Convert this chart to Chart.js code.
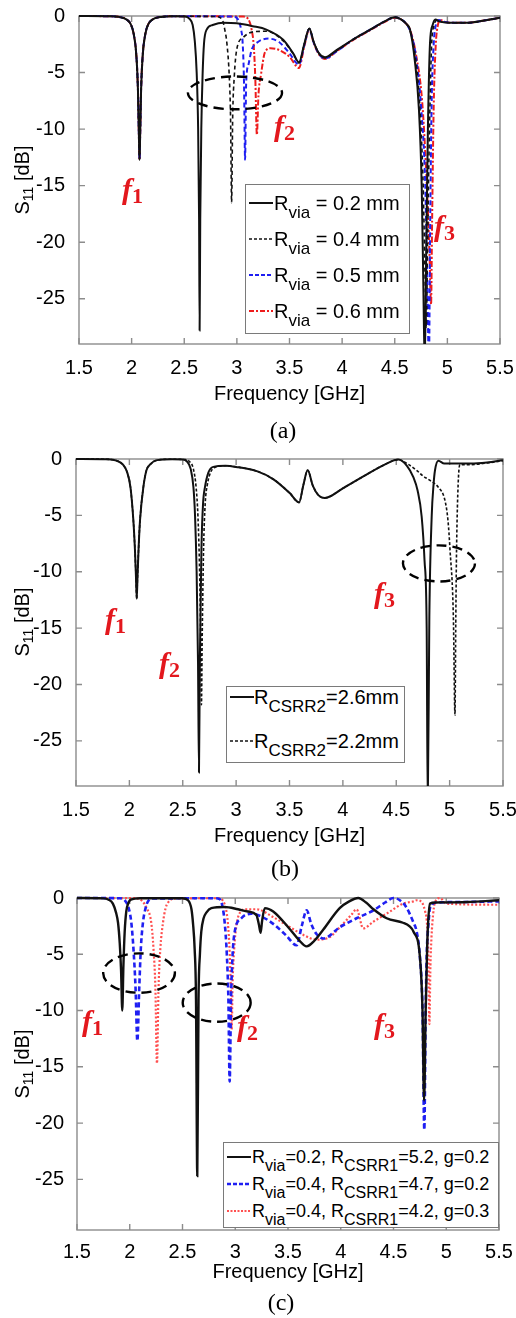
<!DOCTYPE html>
<html>
<head>
<meta charset="utf-8">
<script src="https://cdn.jsdelivr.net/npm/chart.js@4.4.1/dist/chart.umd.min.js"></script>
<style>
  body { margin: 0; background: #fff; width: 516px; height: 1318px; position: relative; overflow: hidden;
         font-family: "Liberation Sans", Arial, sans-serif; color: #000; }
  canvas { position: absolute; left: 0; }
  .fl { position: absolute; font: italic bold 30px "Liberation Serif", serif; color: #e3171d; line-height: 30px; white-space: nowrap; }
  .fl sub { font-size: 22px; font-style: normal; vertical-align: -4px; }
  .cap { position: absolute; width: 60px; text-align: center; font: 24px "Liberation Serif", serif; line-height: 26px; }
  .yt { position: absolute; width: 120px; height: 24px; line-height: 24px; text-align: center; font-size: 20px;
        transform: rotate(-90deg); white-space: nowrap; }
  .yt sub { font-size: 14px; vertical-align: -4px; }
  .leg { position: absolute; background: #fff; border: 1.3px solid #7a7a7a; box-sizing: border-box; }
  .row { position: absolute; left: 0; height: 22px; line-height: 22px; white-space: nowrap; }
  .row svg { position: absolute; left: 3px; top: 6px; }
  .row span { position: absolute; top: 0; }
  .row sub { vertical-align: -8px; line-height: 0; }
</style>
</head>
<body>
<canvas id="chartA" width="516" height="410" style="top:0px"></canvas>
<canvas id="chartB" width="516" height="410" style="top:440px"></canvas>
<canvas id="chartC" width="516" height="410" style="top:880px"></canvas>

<div class="yt" style="left:-38px;top:168px">S<sub>11</sub> [dB]</div>
<div class="yt" style="left:-38px;top:610px">S<sub>11</sub> [dB]</div>
<div class="yt" style="left:-38px;top:1052px">S<sub>11</sub> [dB]</div>

<div class="fl" style="left:122px;top:174px">f<sub>1</sub></div>
<div class="fl" style="left:274px;top:111px">f<sub>2</sub></div>
<div class="fl" style="left:434px;top:211px">f<sub>3</sub></div>

<div class="fl" style="left:105px;top:604px">f<sub>1</sub></div>
<div class="fl" style="left:159px;top:648px">f<sub>2</sub></div>
<div class="fl" style="left:374px;top:578px">f<sub>3</sub></div>

<div class="fl" style="left:82px;top:1006px">f<sub>1</sub></div>
<div class="fl" style="left:237px;top:1011px">f<sub>2</sub></div>
<div class="fl" style="left:374px;top:1009px">f<sub>3</sub></div>

<div class="cap" style="left:253px;top:417px">(a)</div>
<div class="cap" style="left:255px;top:855px">(b)</div>
<div class="cap" style="left:251px;top:1289px">(c)</div>

<div id="legA" class="leg" style="left:245px;top:184px;width:165px;height:150px;font-size:20px"></div>
<div id="legB" class="leg" style="left:226px;top:686px;width:179px;height:77px;font-size:20px"></div>
<div id="legC" class="leg" style="left:223px;top:1142px;width:276px;height:86px;font-size:18px"></div>

<script>
// ── ticks ──
const xTickValues = [1.5, 2, 2.5, 3, 3.5, 4, 4.5, 5, 5.5];
const yTickValues = [0, -5, -10, -15, -20, -25];

// ── (a) R_via sweep ──
const freqA02 = [1.5, 1.8, 1.9, 1.95, 1.99, 2.02, 2.045, 2.06, 2.069, 2.075,
  2.081, 2.09, 2.105, 2.13, 2.16, 2.2, 2.28, 2.4, 2.5, 2.55,
  2.58, 2.60, 2.618, 2.632, 2.641, 2.646, 2.652, 2.662, 2.675, 2.688,
  2.713, 2.77, 2.87, 3.0, 3.15, 3.28, 3.44, 3.535, 3.59, 3.64,
  3.688, 3.73, 3.78, 3.837, 3.95, 4.1, 4.25, 4.4, 4.5, 4.56,
  4.61, 4.645, 4.69, 4.73, 4.756, 4.772, 4.785, 4.80, 4.815, 4.835,
  4.86, 4.885, 4.93, 5.05, 5.2, 5.35, 5.5];
const s11A02 = [0, -0.03, -0.12, -0.3, -0.7, -1.6, -3.5, -6.5, -10.5, -12.7,
  -10.5, -6.5, -3.5, -1.6, -0.7, -0.3, -0.08, -0.02, -0.05, -0.25,
  -0.8, -2.2, -5, -10, -18, -27.8, -18, -10, -5, -2.4,
  -1.2, -0.8, -0.6, -0.65, -0.9, -1.2, -2.1, -3.3, -4.1, -2.5,
  -1.1, -2.3, -3.3, -3.65, -3.0, -2.1, -1.3, -0.5, -0.1, -0.3,
  -0.7, -1.2, -3.9, -8.3, -15, -24, -31, -20, -10, -2.4,
  -0.8, -0.3, -0.5, -0.6, -0.6, -0.4, -0.15];

const freqA04 = [1.5, 1.8, 1.9, 1.95, 1.99, 2.02, 2.045, 2.06, 2.069, 2.075,
  2.081, 2.09, 2.105, 2.13, 2.16, 2.2, 2.28, 2.4, 2.8, 2.86,
  2.885, 2.905, 2.928, 2.94, 2.95, 2.96, 2.975, 2.998, 3.06, 3.156,
  3.28, 3.44, 3.535, 3.59, 3.64, 3.688, 3.73, 3.78, 3.837, 3.95,
  4.1, 4.25, 4.4, 4.5, 4.56, 4.61, 4.645, 4.70, 4.74, 4.77,
  4.79, 4.80, 4.812, 4.83, 4.85, 4.875, 4.9, 4.94, 5.05, 5.2,
  5.35, 5.5];
const s11A04 = [0, -0.03, -0.12, -0.3, -0.7, -1.6, -3.5, -6.5, -10.5, -12.7,
  -10.5, -6.5, -3.5, -1.6, -0.7, -0.3, -0.08, -0.02, -0.05, -0.3,
  -1.2, -2.4, -5.4, -9, -16.5, -9, -5.4, -3, -1.9, -1.4,
  -1.35, -2.2, -3.35, -4.15, -2.5, -1.1, -2.3, -3.3, -3.7, -3.05,
  -2.1, -1.3, -0.5, -0.1, -0.3, -0.7, -1.3, -3.9, -8.3, -15,
  -24, -27.5, -20, -10, -2.6, -0.8, -0.35, -0.5, -0.6, -0.6,
  -0.4, -0.15];

const freqA05 = [1.5, 1.8, 1.9, 1.95, 1.99, 2.02, 2.045, 2.06, 2.069, 2.075,
  2.081, 2.09, 2.105, 2.13, 2.16, 2.2, 2.28, 2.4, 2.96, 3.01,
  3.04, 3.055, 3.068, 3.078, 3.088, 3.11, 3.14, 3.2, 3.3, 3.4,
  3.5, 3.59, 3.64, 3.688, 3.73, 3.78, 3.837, 3.95, 4.1, 4.25,
  4.4, 4.5, 4.56, 4.61, 4.645, 4.70, 4.75, 4.79, 4.81, 4.825,
  4.835, 4.85, 4.87, 4.89, 4.92, 4.96, 5.05, 5.2, 5.35, 5.5];
const s11A05 = [0, -0.03, -0.12, -0.3, -0.7, -1.6, -3.5, -6.5, -10.5, -12.7,
  -10.5, -6.5, -3.5, -1.6, -0.7, -0.3, -0.08, -0.02, -0.05, -0.3,
  -1.2, -2.4, -6, -12.7, -6, -4.3, -3, -2.3, -2.0, -2.3,
  -3.3, -4.3, -2.6, -1.15, -2.35, -3.35, -3.75, -3.1, -2.1, -1.3,
  -0.5, -0.12, -0.3, -0.7, -1.3, -3.5, -8, -15, -24, -31,
  -20, -8, -2.5, -0.8, -0.35, -0.5, -0.6, -0.6, -0.4, -0.15];

const freqA06 = [1.5, 1.8, 1.9, 1.95, 1.99, 2.02, 2.045, 2.06, 2.069, 2.075,
  2.081, 2.09, 2.105, 2.13, 2.16, 2.2, 2.28, 2.4, 3.06, 3.11,
  3.14, 3.16, 3.175, 3.19, 3.205, 3.229, 3.267, 3.32, 3.4, 3.5,
  3.59, 3.64, 3.688, 3.73, 3.78, 3.837, 3.95, 4.1, 4.25, 4.4,
  4.5, 4.56, 4.61, 4.645, 4.70, 4.76, 4.80, 4.83, 4.845, 4.855,
  4.87, 4.89, 4.91, 4.935, 4.97, 5.05, 5.2, 5.35, 5.5];
const s11A06 = [0, -0.03, -0.12, -0.3, -0.7, -1.6, -3.5, -6.5, -10.5, -12.7,
  -10.5, -6.5, -3.5, -1.6, -0.7, -0.3, -0.08, -0.02, -0.05, -0.3,
  -1.2, -2.6, -5.5, -10.5, -7, -5.2, -3.2, -2.85, -3.0, -3.6,
  -4.6, -2.7, -1.2, -2.4, -3.4, -3.8, -3.1, -2.15, -1.35, -0.55,
  -0.15, -0.3, -0.7, -1.2, -3.3, -7.5, -14, -21, -25.5, -18,
  -8, -2.5, -0.8, -0.35, -0.5, -0.6, -0.6, -0.4, -0.15];

// ── (b) R_CSRR2 sweep ──
const freqB26 = [1.5, 1.8, 1.88, 1.94, 1.98, 2.01, 2.037, 2.052, 2.062, 2.069,
  2.076, 2.086, 2.10, 2.131, 2.16, 2.193, 2.26, 2.4, 2.5, 2.537,
  2.575, 2.6, 2.615, 2.63, 2.643, 2.652, 2.66, 2.675, 2.69, 2.708,
  2.74, 2.786, 2.9, 3.0, 3.2, 3.35, 3.5, 3.59, 3.63, 3.67,
  3.72, 3.77, 3.83, 4.0, 4.2, 4.4, 4.52, 4.6, 4.66, 4.70,
  4.738, 4.765, 4.785, 4.795, 4.81, 4.832, 4.85, 4.863, 4.894, 4.95,
  5.2, 5.35, 5.5];
const s11B26 = [0, -0.03, -0.15, -0.5, -1.2, -2.5, -5.4, -8, -10.5, -12.4,
  -10.5, -8, -5.4, -2.5, -1.0, -0.5, -0.1, -0.02, -0.05, -0.2,
  -0.9, -2.5, -5, -10, -18, -27.8, -18, -8, -4, -2.5,
  -1.2, -0.7, -0.6, -0.7, -1.1, -1.8, -3.0, -3.85, -2.3, -1.0,
  -2.4, -3.2, -3.45, -2.6, -1.5, -0.45, -0.05, -0.6, -1.6, -2.8,
  -5.1, -9, -15, -31, -14, -5.1, -2.2, -1.0, -0.15, -0.4,
  -0.4, -0.3, -0.1];

const freqB22 = [1.5, 1.8, 1.88, 1.94, 1.98, 2.01, 2.037, 2.052, 2.062, 2.069,
  2.076, 2.086, 2.10, 2.131, 2.16, 2.193, 2.26, 2.4, 2.52, 2.56,
  2.6, 2.625, 2.642, 2.658, 2.668, 2.675, 2.682, 2.695, 2.71, 2.73,
  2.76, 2.8, 2.9, 3.0, 3.2, 3.35, 3.5, 3.59, 3.63, 3.67,
  3.72, 3.77, 3.83, 4.0, 4.2, 4.4, 4.52, 4.6, 4.69, 4.75,
  4.816, 4.894, 4.957, 4.985, 5.004, 5.035, 5.05, 5.058, 5.065, 5.08,
  5.097, 5.2, 5.35, 5.5];
const s11B22 = [0, -0.03, -0.15, -0.5, -1.2, -2.5, -5.4, -8, -10.5, -12.4,
  -10.5, -8, -5.4, -2.5, -1.0, -0.5, -0.1, -0.02, -0.05, -0.2,
  -0.9, -2.5, -5, -10, -16, -21.8, -16, -8, -4, -2.3,
  -1.2, -0.75, -0.6, -0.7, -1.1, -1.8, -3.0, -3.85, -2.3, -1.0,
  -2.4, -3.2, -3.45, -2.6, -1.5, -0.45, -0.05, -0.4, -1.0, -1.5,
  -1.9, -2.5, -3.7, -5.5, -8.1, -14, -22.7, -14, -8, -2.2,
  -0.5, -0.5, -0.35, -0.15];

// ── (c) CSRR1 / gap variants ──
const freqC1 = [1.5, 1.75, 1.8, 1.84, 1.87, 1.889, 1.905, 1.918, 1.929, 1.94,
  1.952, 1.967, 1.985, 2.01, 2.1, 2.5, 2.552, 2.585, 2.6, 2.615,
  2.628, 2.64, 2.652, 2.665, 2.678, 2.7, 2.726, 2.773, 2.9, 3.026,
  3.12, 3.2, 3.225, 3.24, 3.255, 3.28, 3.36, 3.52, 3.6, 3.677,
  3.75, 3.835, 3.99, 4.08, 4.166, 4.24, 4.31, 4.435, 4.59, 4.65,
  4.69, 4.75, 4.775, 4.79, 4.805, 4.82, 4.83, 4.846, 4.9, 5.2,
  5.5];
const s11C1 = [0, -0.03, -0.15, -0.5, -1.3, -2.2, -4, -6.5, -10, -6,
  -3, -1.2, -0.5, -0.15, -0.02, -0.02, -0.2, -1.0, -2.3, -4.5,
  -9, -24.7, -9, -5, -3, -1.8, -1.3, -0.9, -0.8, -1.0,
  -1.2, -1.5, -2.4, -3.1, -2.0, -0.9, -1.2, -2.8, -3.7, -4.3,
  -3.8, -2.8, -0.9, -0.3, 0, -0.4, -1.0, -1.8, -2.2, -2.5,
  -3.0, -5.2, -10, -18, -10, -4, -1.9, -0.5, -0.4, -0.35,
  -0.2];

const freqC2 = [1.5, 1.9, 1.952, 1.99, 2.015, 2.035, 2.055, 2.072, 2.09, 2.105,
  2.125, 2.15, 2.173, 2.22, 2.8, 2.852, 2.88, 2.90, 2.92, 2.935,
  2.947, 2.96, 2.975, 2.995, 3.058, 3.152, 3.26, 3.36, 3.48, 3.582,
  3.63, 3.677, 3.72, 3.77, 3.835, 3.99, 4.15, 4.31, 4.42, 4.5,
  4.56, 4.62, 4.69, 4.72, 4.75, 4.775, 4.792, 4.805, 4.815, 4.83,
  4.846, 4.91, 5.2, 5.5];
const s11C2 = [0, -0.02, -0.2, -0.9, -2.2, -4.5, -8, -12.7, -8, -4.5,
  -2.2, -0.9, -0.3, -0.05, -0.02, -0.1, -0.8, -2.2, -5, -9,
  -16.3, -9, -5, -3, -1.8, -1.4, -1.7, -2.3, -3.3, -4.2,
  -2.5, -1.1, -2.3, -3.2, -3.6, -2.6, -1.8, -1.1, -0.4, 0,
  -0.2, -0.8, -2.2, -3.0, -5.2, -10, -20.6, -10, -5, -2.5,
  -0.9, -0.4, -0.35, -0.3];

const freqC3 = [1.5, 2.05, 2.11, 2.16, 2.204, 2.225, 2.243, 2.258, 2.273, 2.29,
  2.315, 2.34, 2.363, 2.42, 2.85, 2.88, 2.91, 2.93, 2.948, 2.958,
  2.966, 2.975, 2.99, 3.01, 3.045, 3.1, 3.2, 3.36, 3.52, 3.65,
  3.77, 3.89, 4.0, 4.1, 4.15, 4.213, 4.31, 4.45, 4.59, 4.69,
  4.72, 4.77, 4.8, 4.815, 4.83, 4.84, 4.85, 4.86, 4.875, 4.89,
  4.94, 5.0, 5.5];
const s11C3 = [0, -0.02, -0.2, -0.9, -2.2, -4.5, -8, -14.7, -8, -4.5,
  -2.2, -0.9, -0.4, -0.05, -0.02, -0.2, -0.9, -2.2, -5, -8,
  -11.7, -7.5, -4.5, -2.5, -1.3, -1.0, -1.0, -1.7, -2.6, -3.3,
  -3.7, -3.5, -2.5, -1.5, -1.0, -2.7, -2.1, -1.3, -0.5, -0.3,
  -0.2, -0.4, -1.2, -2, -5, -11.2, -6, -3.5, -1.5, -0.5,
  0, -0.5, -0.6];

// legend texts: [subscript, following text] pairs, each pair starts with "R"
const legendA = [['via', ' = 0.2 mm'], ['via', ' = 0.4 mm'], ['via', ' = 0.5 mm'], ['via', ' = 0.6 mm']];
const legendB = [['CSRR2', '=2.6mm'], ['CSRR2', '=2.2mm']];
const legendC = [['via', '=0.2, ', 'CSRR1', '=5.2, g=0.2'],
                 ['via', '=0.4, ', 'CSRR1', '=4.7, g=0.2'],
                 ['via', '=0.4, ', 'CSRR1', '=4.2, g=0.3']];

/* ── styles ── */
const BLACK = '#111', BLUE = '#1f1ff2', RED = '#ee1c1c', RED_C = '#ff5050';
const FONT = '"Liberation Sans", Arial, sans-serif';

const pts = (f, s) => f.map((v, i) => ({ x: v, y: s[i] }));
const ds = (f, s, color, width, dash) => ({
  data: pts(f, s), borderColor: color, borderWidth: width, borderDash: dash,
  pointRadius: 0, fill: false, cubicInterpolationMode: 'monotone',
  clip: { left: 0, top: 4, right: 0, bottom: 0 },
});

// frame + inward ticks (MATLAB look)
const framePlugin = {
  id: 'frame',
  beforeDatasetsDraw(chart) {
    const { ctx, chartArea: a, scales: { x, y } } = chart;
    ctx.save();
    ctx.strokeStyle = '#8c8c8c';
    ctx.lineWidth = 1.4;
    ctx.strokeRect(a.left, a.top, a.right - a.left, a.bottom - a.top);
    ctx.beginPath();
    xTickValues.forEach(v => {
      const px = x.getPixelForValue(v);
      ctx.moveTo(px, a.bottom); ctx.lineTo(px, a.bottom - 6);
      ctx.moveTo(px, a.top); ctx.lineTo(px, a.top + 6);
    });
    yTickValues.forEach(v => {
      const py = y.getPixelForValue(v);
      ctx.moveTo(a.left, py); ctx.lineTo(a.left + 6, py);
      ctx.moveTo(a.right, py); ctx.lineTo(a.right - 6, py);
    });
    ctx.stroke();
    ctx.restore();
  },
};

// dashed ellipses given in data units
const ellipsePlugin = {
  id: 'ellipses',
  afterDatasetsDraw(chart, args, opts) {
    const { ctx, scales: { x, y } } = chart;
    ctx.save();
    ctx.strokeStyle = '#000';
    ctx.lineWidth = 2.4;
    ctx.setLineDash([10, 6]);
    (opts.items || []).forEach(e => {
      const cx = x.getPixelForValue(e.f), cy = y.getPixelForValue(e.db);
      const rx = Math.abs(x.getPixelForValue(e.f + e.rf) - cx);
      const ry = Math.abs(y.getPixelForValue(e.db + e.rdb) - cy);
      ctx.beginPath();
      ctx.ellipse(cx, cy, rx, ry, e.rot || 0, 0, Math.PI * 2);
      ctx.stroke();
    });
    ctx.restore();
  },
};

function makePanel(id, g, datasets, ellipses) {
  return new Chart(document.getElementById(id), {
    type: 'line',
    data: { datasets },
    plugins: [framePlugin, ellipsePlugin],
    options: {
      responsive: false, animation: false, devicePixelRatio: 1,
      layout: { padding: { left: 0, right: 516 - g.right, top: g.top, bottom: 0 } },
      plugins: { legend: { display: false }, tooltip: { enabled: false }, ellipses: { items: ellipses } },
      scales: {
        x: {
          type: 'linear', min: 1.5, max: 5.5,
          grid: { display: false }, border: { display: false },
          afterBuildTicks: s => { s.ticks = xTickValues.map(v => ({ value: v })); },
          afterFit: s => { s.height = g.xh; s.paddingLeft = 0; s.paddingRight = 0; },
          ticks: { color: '#000', font: { family: FONT, size: 20 }, padding: g.tp, maxRotation: 0, autoSkip: false,
                   callback: v => String(v) },
          title: { display: true, text: 'Frequency [GHz]', color: '#000', font: { family: FONT, size: 20 },
                   padding: { top: 0, bottom: g.titlePad } },
        },
        y: {
          type: 'linear', min: g.ymin, max: 0,
          grid: { display: false }, border: { display: false },
          afterBuildTicks: s => { s.ticks = yTickValues.map(v => ({ value: v })); },
          afterFit: s => { s.width = g.left; s.paddingTop = 0; s.paddingBottom = 0; },
          ticks: { color: '#000', font: { family: FONT, size: 20 }, padding: g.yp, autoSkip: false,
                   callback: v => String(v) },
        },
      },
    },
  });
}

makePanel('chartA', { top: 16, left: 79, right: 500, xh: 66, ymin: -29, tp: 4, titlePad: 4, yp: 6 }, [
  ds(freqA02, s11A02, BLACK, 2, []),
  ds(freqA04, s11A04, BLACK, 1.6, [4, 3]),
  ds(freqA05, s11A05, BLUE, 2, [5, 3]),
  ds(freqA06, s11A06, RED, 2, [6, 2, 2, 2]),
], [{ f: 2.982, db: -6.8, rf: 0.447, rdb: 1.45 }]);

makePanel('chartB', { top: 19, left: 76, right: 503, xh: 64, ymin: -29, tp: 4, titlePad: 2, yp: 6 }, [
  ds(freqB26, s11B26, BLACK, 2, []),
  ds(freqB22, s11B22, BLACK, 1.6, [3, 2]),
], [{ f: 4.90, db: -9.26, rf: 0.337, rdb: 1.6 }]);

makePanel('chartC', { top: 18, left: 77, right: 499, xh: 60, ymin: -29.5, tp: 2, titlePad: 6, yp: 5 }, [
  ds(freqC1, s11C1, BLACK, 2.4, []),
  ds(freqC2, s11C2, BLUE, 2.6, [5, 3]),
  ds(freqC3, s11C3, RED_C, 2.2, [2, 2]),
], [{ f: 2.088, db: -6.67, rf: 0.34, rdb: 1.75 }, { f: 2.824, db: -9.3, rf: 0.322, rdb: 1.7 }]);

/* ── legends (HTML, for the subscripts) ── */
function sample(color, dash, w) {
  return `<svg width="24" height="10"><line x1="0" y1="5" x2="24" y2="5" stroke="${color}" stroke-width="${w}"` +
         (dash ? ` stroke-dasharray="${dash}"` : '') + `/></svg>`;
}
function buildLegend(id, rows, styles, opt) {
  const box = document.getElementById(id);
  box.innerHTML = rows.map((parts, i) => {
    let txt = '';
    for (let k = 0; k < parts.length; k += 2) {
      txt += `R<sub style="font-size:${opt.sub}px">${parts[k]}</sub>${parts[k + 1]}`;
    }
    const [c, d, w] = styles[i];
    return `<div class="row" style="top:${opt.first + i * opt.step - 11}px">${sample(c, d, w)}` +
           `<span style="left:${opt.textLeft}px">${txt}</span></div>`;
  }).join('');
}
buildLegend('legA', legendA, [[BLACK, '', 2], [BLACK, '3 2', 1.6], [BLUE, '4 2', 2], [RED, '5 2 2 2', 2]],
            { first: 18, step: 36, textLeft: 28, sub: 17 });
buildLegend('legB', legendB, [[BLACK, '', 2], [BLACK, '3 2', 1.6]],
            { first: 10, step: 44, textLeft: 27, sub: 17 });
buildLegend('legC', legendC, [[BLACK, '', 2], [BLUE, '4 2', 2.4], [RED_C, '2 1.5', 2]],
            { first: 14, step: 27, textLeft: 28, sub: 16 });
</script>
</body>
</html>
